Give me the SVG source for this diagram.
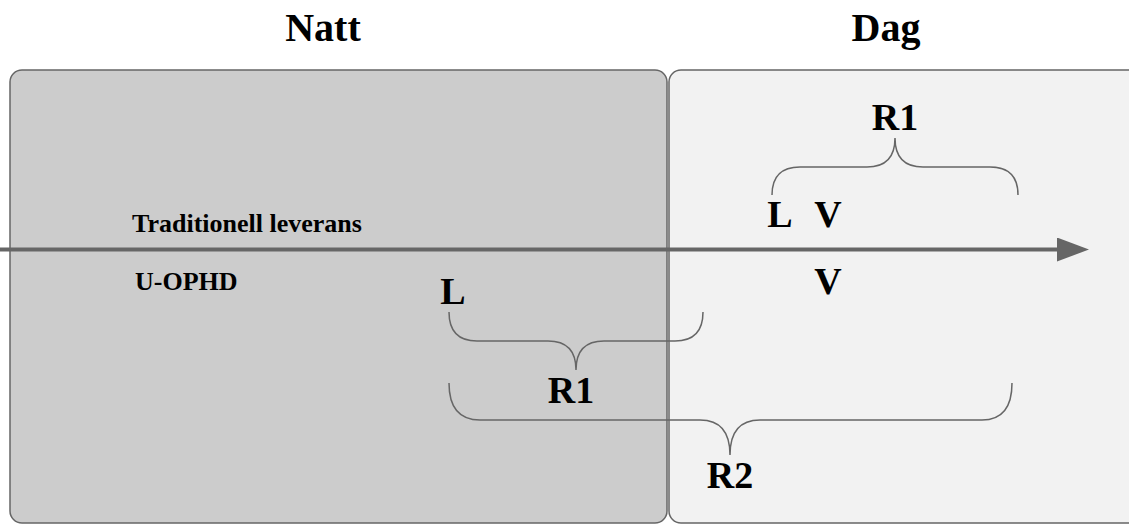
<svg xmlns="http://www.w3.org/2000/svg" width="1129" height="525" viewBox="0 0 1129 525">
  <style>
    .panel { stroke: #666666; stroke-width: 1.5; }
    .night { fill: #cccccc; }
    .day { fill: #f2f2f2; }
    .brace { fill: none; stroke: #666666; stroke-width: 1.5; }
    .title { font-family: "Liberation Serif", "Times New Roman", serif; font-weight: bold; font-size: 40px; fill: #000; text-anchor: middle; }
    .big { font-family: "Liberation Serif", "Times New Roman", serif; font-weight: bold; font-size: 38px; fill: #000; text-anchor: middle; }
    .small { font-family: "Liberation Serif", "Times New Roman", serif; font-weight: bold; font-size: 26px; fill: #000; }
  </style>
  <defs>
    <marker id="arrowhead" markerWidth="8" markerHeight="6" refX="0" refY="3" orient="auto" markerUnits="strokeWidth">
      <path d="M0,0 L8,3 L0,6 Z" fill="#666666"/>
    </marker>
  </defs>
  <rect width="1129" height="525" fill="#ffffff"/>

  <!-- Night and day panels -->
  <g id="natt">
    <rect class="panel night" x="10" y="70" width="657" height="453" rx="12" ry="12"/>
    <text class="title" x="323" y="41">Natt</text>
  </g>
  <g id="dag">
    <rect class="panel day" x="669" y="70" width="471" height="453" rx="12" ry="12"/>
    <text class="title" x="886" y="41">Dag</text>
  </g>

  <!-- Time axis and braces -->
  <g id="connectors">
    <line x1="0" y1="249.5" x2="1057" y2="249.5" stroke="#666666" stroke-width="4" marker-end="url(#arrowhead)"/>
    <path class="brace" d="M772,195 Q772,167 800,167 L867,167 Q895,167 895,138 Q895,167 923,167 L990,167 Q1018,167 1018,195"/>
    <path class="brace" d="M449,312 Q449,341 477,341 L548,341 Q576,341 576,370 Q576,341 604,341 L675,341 Q703,341 703,312"/>
    <path class="brace" d="M449,383 Q449,420 480,420 L700,420 Q730,420 730,455 Q730,420 760,420 L982,420 Q1012,420 1012,383"/>
  </g>

  <g id="labels">
    <text class="small" x="132" y="232">Traditionell leverans</text>
    <text class="small" x="135" y="290">U-OPHD</text>
    <text class="big" x="895" y="130">R1</text>
    <text class="big" x="780" y="227">L</text>
    <text class="big" x="828" y="227">V</text>
    <text class="big" x="828" y="294">V</text>
    <text class="big" x="453" y="304">L</text>
    <text class="big" x="571" y="403">R1</text>
    <text class="big" x="730" y="488">R2</text>
  </g>
</svg>
